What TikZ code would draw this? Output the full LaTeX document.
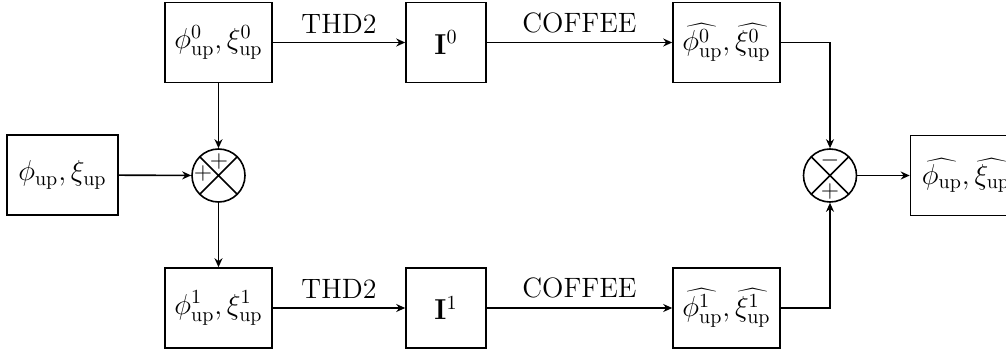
\documentclass[tikz,border=0pt]{standalone}
\usetikzlibrary{arrows.meta}
\begin{document}
\begin{tikzpicture}[x=0.5pt,y=-0.5pt,
  font=\fontsize{14}{17}\selectfont,
  blk/.style={draw,line width=0.8pt,minimum width=53.5pt,minimum height=40pt,inner sep=0pt},
  iblk/.style={blk,minimum width=40pt},
  sumnode/.style={draw,circle,line width=0.8pt,minimum size=26.5pt,inner sep=0pt,
    path picture={\draw[line width=0.8pt] (path picture bounding box.north west) -- (path picture bounding box.south east)
      (path picture bounding box.north east) -- (path picture bounding box.south west);}},
  sgn/.style={inner sep=0pt,font=\fontsize{12}{14}\selectfont},
  conn/.style={line width=0.8pt,-{Stealth[length=4.5pt,width=4pt]}}]
\useasboundingbox (0,0) rectangle (1006,358);
\node[blk,minimum width=55.5pt] (in) at (62.5,175) {$\phi_{\mathrm{up}},\xi_{\mathrm{up}}$};
\node[blk] (b0) at (218.5,42.5) {$\phi^0_{\mathrm{up}},\xi^0_{\mathrm{up}}$};
\node[blk] (b1) at (218.5,308) {$\phi^1_{\mathrm{up}},\xi^1_{\mathrm{up}}$};
\node[iblk] (i0) at (446,42.5) {$\mathbf{I}^0$};
\node[iblk] (i1) at (446,308) {$\mathbf{I}^1$};
\node[blk] (h0) at (726.5,42.5) {$\widehat{\phi^0_{\mathrm{up}}},\widehat{\xi^0_{\mathrm{up}}}$};
\node[blk] (h1) at (726.5,308) {$\widehat{\phi^1_{\mathrm{up}}},\widehat{\xi^1_{\mathrm{up}}}$};
\node[sumnode] (s1) at (218.5,175.5) {};
\node[sumnode] (s2) at (830,175.5) {};
\node[blk,minimum width=55.5pt] (out) at (966,175.5) {$\widehat{\phi_{\mathrm{up}}},\widehat{\xi_{\mathrm{up}}}$};
\node[sgn] (s1a) at (219,162) {$+$};
\node[sgn] (s1b) at (203,173) {$+$};
\node[sgn] (s2a) at (830,160) {$-$};
\node[sgn] (s2b) at (830,191) {$+$};
\draw[conn] (b0) -- node[above=1pt] {THD2} (i0);
\draw[conn] (i0) -- node[above=1pt] {COFFEE} (h0);
\draw[conn] (b1) -- node[above=1pt] {THD2} (i1);
\draw[conn] (i1) -- node[above=1pt] {COFFEE} (h1);
\draw[conn] (b0) -- (s1);
\draw[conn] (in) -- (s1);
\draw[conn] (s1) -- (b1);
\draw[conn] (h0) -| (s2);
\draw[conn] (h1) -| (s2);
\draw[conn] (s2) -- (out);
\end{tikzpicture}
\end{document}
